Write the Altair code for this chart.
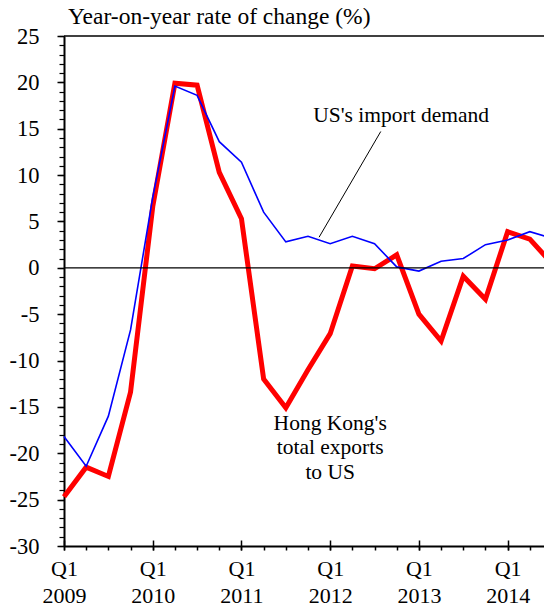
import altair as alt
import pandas as pd

FONT = "Liberation Serif"

quarter_labels = [
    "2009Q1", "2009Q2", "2009Q3", "2009Q4",
    "2010Q1", "2010Q2", "2010Q3", "2010Q4",
    "2011Q1", "2011Q2", "2011Q3", "2011Q4",
    "2012Q1", "2012Q2", "2012Q3", "2012Q4",
    "2013Q1", "2013Q2", "2013Q3", "2013Q4",
    "2014Q1", "2014Q2", "2014Q3",
]
us_import_demand = [-18.2, -21.4, -16.0, -6.7, 7.6, 19.6, 18.6, 13.6, 11.4, 6.0,
                    2.8, 3.4, 2.6, 3.4, 2.6, 0.1, -0.35, 0.7, 1.0, 2.5, 3.0, 3.9, 3.2]
hk_exports_to_us = [-24.7, -21.5, -22.5, -13.4, 6.6, 19.9, 19.7, 10.3, 5.3, -12.0,
                    -15.1, -11.0, -7.1, 0.2, -0.1, 1.4, -5.0, -7.9, -0.9, -3.4, 3.9, 3.1, 0.45]
y_title = "Year-on-year rate of change (%)"
first_year = 2009

df = pd.DataFrame({
    "i": list(range(len(quarter_labels))),
    "quarter": quarter_labels,
    "us": us_import_demand,
    "hk": hk_exports_to_us,
})

n = len(quarter_labels) - 1
xs = alt.Scale(domain=[0, n], nice=False, zero=False)
ys = alt.Scale(domain=[-30, 25], nice=False, zero=False)

label_expr = f"datum.value % 4 == 0 ? ['Q1', '' + ({first_year} + datum.value / 4)] : ''"

common_axis = dict(title=None, grid=False, tickColor="black", domainColor="black",
                   labelFont=FONT, labelColor="black")

x_minor = alt.Axis(orient="bottom", values=list(range(n + 1)), tickSize=4, tickWidth=1.5,
                   domain=True, domainWidth=2, labelExpr=label_expr, labelPadding=8,
                   labelFontSize=22, labelLineHeight=27, labelOverlap=False,
                   labelFlush=False, labelBound=False, **common_axis)
x_major = alt.Axis(orient="bottom", values=list(range(0, n + 1, 4)), tickSize=10, tickWidth=1.5,
                   offset=-6, domain=False, labels=False, **common_axis)
y_minor = alt.Axis(orient="left", values=list(range(-30, 26)), tickSize=5, tickWidth=1.2,
                   domain=True, domainWidth=2, labels=False, **common_axis)
y_major = alt.Axis(orient="left", values=list(range(-30, 26, 5)), tickSize=7, tickWidth=1.5,
                   domain=False, labelPadding=18, labelFontSize=22.5, labelOverlap=False,
                   labelFlush=False, labelBound=False, labelExpr="'' + datum.value",
                   **common_axis)

base = alt.Chart(df)

red = base.mark_line(color="#ff0000", strokeWidth=5).encode(
    x=alt.X("i:Q", scale=xs, axis=x_minor),
    y=alt.Y("hk:Q", scale=ys, axis=y_minor),
)
blue = base.mark_line(color="#0000ff", strokeWidth=1.6).encode(
    x=alt.X("i:Q", scale=xs, axis=x_major),
    y=alt.Y("us:Q", scale=ys, axis=y_major),
)

zero_line = alt.Chart(pd.DataFrame({"v": [0]})).mark_rule(color="black", strokeWidth=1.3).encode(
    y=alt.Y("v:Q", scale=ys, axis=None)
)
top_line = alt.Chart(pd.DataFrame({"v": [25]})).mark_rule(color="black", strokeWidth=1.5).encode(
    y=alt.Y("v:Q", scale=ys, axis=None)
)

leader = alt.Chart(pd.DataFrame({"x": [14.28], "y": [14.7], "x2": [11.5], "y2": [3.3]})).mark_rule(
    color="black", strokeWidth=1).encode(
    x=alt.X("x:Q", scale=xs, axis=None), y=alt.Y("y:Q", scale=ys, axis=None),
    x2="x2:Q", y2="y2:Q")

ann = pd.DataFrame({
    "x": [15.2, 12.0, 12.0, 12.0],
    "y": [15.7, -17.5, -20.1, -22.8],
    "t": ["US's import demand", "Hong Kong's", "total exports", "to US"],
})
ann_text = alt.Chart(ann).mark_text(font=FONT, fontSize=21.5, color="black", align="center",
                                    baseline="alphabetic").encode(
    x=alt.X("x:Q", scale=xs, axis=None), y=alt.Y("y:Q", scale=ys, axis=None), text="t:N")

title_text = alt.Chart(pd.DataFrame({"t": [y_title]})).mark_text(
    font=FONT, fontSize=23.5, color="black", align="left", baseline="alphabetic").encode(
    x=alt.value(4), y=alt.value(-12), text="t:N")

chart = alt.layer(red, blue, zero_line, top_line, leader, ann_text, title_text).resolve_axis(
    x="independent", y="independent"
).properties(
    width=488, height=510,
    padding={"left": 56, "top": 28, "right": -8, "bottom": 59},
    autosize=alt.AutoSizeParams(type="none"),
).configure_view(stroke=None)

chart.save("out.html", embed_options={"renderer": "svg", "actions": False})
